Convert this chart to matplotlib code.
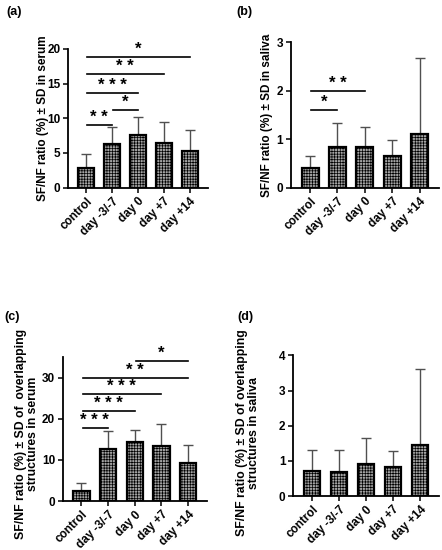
import numpy as np
import matplotlib
matplotlib.use("Agg")
import matplotlib.pyplot as plt

plt.rcParams["font.family"] = ["Liberation Sans", "DejaVu Sans"]
plt.rcParams["font.weight"] = "bold"
plt.rcParams["hatch.linewidth"] = 0.5

# Data
labels = ["control", "day -3/-7", "day 0", "day +7", "day +14"]

serum_mean = [2.75, 6.3, 7.6, 6.45, 5.3]
serum_sd = [2.15, 2.4, 2.6, 2.95, 3.0]

saliva_mean = [0.41, 0.84, 0.84, 0.66, 1.10]
saliva_sd = [0.24, 0.49, 0.41, 0.32, 1.57]

overlap_serum_mean = [2.5, 12.6, 14.3, 13.3, 9.2]
overlap_serum_sd = [1.8, 4.5, 3.0, 5.3, 4.3]

overlap_saliva_mean = [0.72, 0.68, 0.91, 0.83, 1.46]
overlap_saliva_sd = [0.60, 0.64, 0.73, 0.44, 2.14]

# significance brackets: (from, to, height, stars)
serum_sig = [(0, 1, 9.0, "* *"), (1, 2, 11.2, "*"), (0, 2, 13.6, "* * *"),
             (0, 3, 16.4, "* *"), (0, 4, 18.9, "*")]
saliva_sig = [(0, 1, 1.6, "*"), (0, 2, 2.0, "* *")]
overlap_serum_sig = [(0, 1, 17.7, "* * *"), (0, 2, 21.9, "* * *"),
                     (0, 3, 26.0, "* * *"), (0, 4, 29.9, "* *"),
                     (2, 4, 34.0, "*")]
overlap_saliva_sig = []


def draw_panel(ax, mean, sd, sig, ylim, yticks, ylabel, label_xy, lsize):
    x = np.arange(len(labels))
    ax.errorbar(x, mean, yerr=[np.zeros(len(sd)), sd], fmt="none",
                ecolor="#505050", elinewidth=1.0, capsize=3.5,
                capthick=1.0, zorder=1)
    ax.bar(x, mean, width=0.62, facecolor="#a4a4a4", edgecolor="black",
           hatch="++++++", linewidth=1.6, zorder=2)
    for x0, x1, y, stars in sig:
        ax.plot([x0 + 0.05, x1], [y, y], color="black", lw=1.2,
                clip_on=False)
        ax.annotate(stars, xy=((x0 + x1) / 2, y), xytext=(0, 5.5),
                    textcoords="offset points", ha="center", va="center",
                    fontsize=12, fontweight="bold", annotation_clip=False)
    ax.set_xlim(-0.7, 4.7)
    ax.set_ylim(*ylim)
    ax.set_yticks(yticks)
    ax.set_xticks(x)
    ax.set_xticklabels(labels, rotation=45, ha="right",
                       rotation_mode="anchor", fontsize=8.5,
                       fontweight="bold")
    for t in ax.get_yticklabels():
        t.set_fontsize(8.5)
        t.set_fontweight("bold")
    ax.spines["top"].set_visible(False)
    ax.spines["right"].set_visible(False)
    ax.spines["left"].set_linewidth(1.3)
    ax.spines["bottom"].set_linewidth(1.3)
    ax.tick_params(axis="both", length=3.5, width=1.1, pad=2)
    ax.set_ylabel(ylabel, fontsize=lsize, fontweight="bold",
                  linespacing=1.0)
    ax.yaxis.set_label_coords(*label_xy)


fig = plt.figure(figsize=(4.42, 5.5), dpi=100)

ax_a = fig.add_axes([0.154, 0.659, 0.316, 0.252])
ax_b = fig.add_axes([0.658, 0.659, 0.335, 0.264])
ax_c = fig.add_axes([0.142, 0.089, 0.326, 0.262])
ax_d = fig.add_axes([0.663, 0.098, 0.330, 0.256])

draw_panel(ax_a, serum_mean, serum_sd, serum_sig, (0, 20), [0, 5, 10, 15, 20],
           "SF/NF ratio (%) ± SD in serum", (-0.14, 0.5), 8.5)
draw_panel(ax_b, saliva_mean, saliva_sd, saliva_sig, (0, 3), [0, 1, 2, 3],
           "SF/NF ratio (%) ± SD in saliva", (-0.12, 0.5), 8.5)
draw_panel(ax_c, overlap_serum_mean, overlap_serum_sd, overlap_serum_sig,
           (0, 35), [0, 10, 20, 30],
           "SF/NF ratio (%) ± SD of  overlapping\nstructures in serum",
           (-0.165, 0.465), 8.8)
draw_panel(ax_d, overlap_saliva_mean, overlap_saliva_sd, overlap_saliva_sig,
           (0, 4), [0, 1, 2, 3, 4],
           "SF/NF ratio (%) ± SD of overlapping\nstructures in saliva",
           (-0.225, 0.45), 8.8)

fig.text(0.014, 0.978, "(a)", fontsize=9, fontweight="bold", va="center")
fig.text(0.534, 0.978, "(b)", fontsize=9, fontweight="bold", va="center")
fig.text(0.011, 0.424, "(c)", fontsize=9, fontweight="bold", va="center")
fig.text(0.536, 0.424, "(d)", fontsize=9, fontweight="bold", va="center")

fig.savefig("out.png", dpi=100, facecolor="white")
